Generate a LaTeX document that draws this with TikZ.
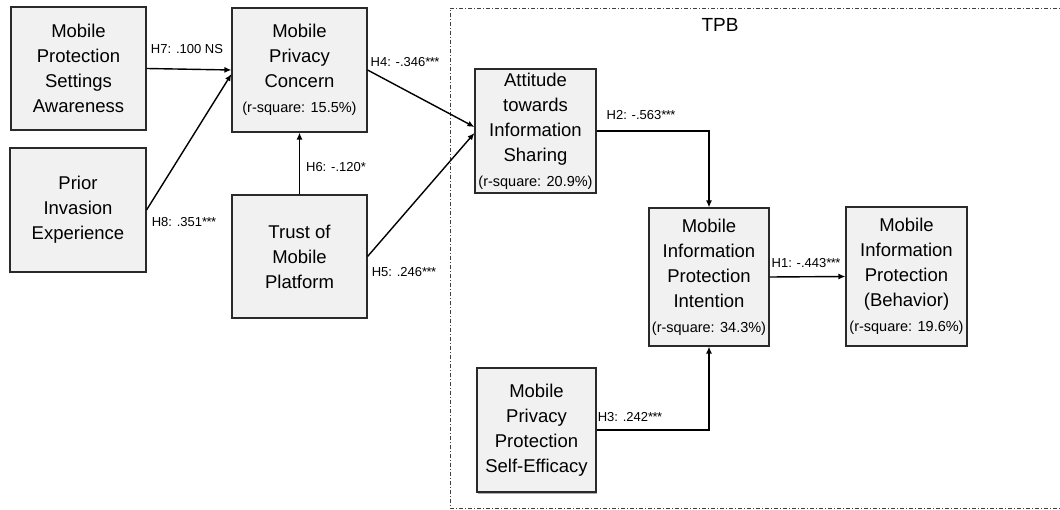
\documentclass[tikz,border=0pt]{standalone}
\usepackage{fontspec}
\setmainfont{Liberation Sans}
\usetikzlibrary{arrows.meta,shadows}
\definecolor{boxfill}{HTML}{F1F1F1}
\definecolor{boxline}{HTML}{2A2A2A}
\newcommand{\rsq}[1]{{\fontsize{14.5}{16}\selectfont (r-square: #1)}}
% tightly set significance stars
\newcommand{\starone}{*}
\newcommand{\starthree}{*\kern-0.6pt*\kern-0.6pt*}
\tikzset{
  construct/.style={draw=boxline, line width=1.1pt, fill=boxfill, align=center,
    inner sep=0pt, font=\fontsize{18.5}{25}\selectfont,
    drop shadow={shadow xshift=1pt, shadow yshift=-1.5pt, fill=black!55, opacity=0.6}},
  path/.style={line width=1.4pt, -{Latex[length=7pt,width=6pt]}},
  coef/.style={font=\fontsize{13}{15}\selectfont, inner sep=0pt},
  tpbframe/.style={line width=0.9pt, black!75, dash pattern=on 4pt off 2pt on 1pt off 2pt}
}
\begin{document}
\begin{tikzpicture}[x=1pt,y=-1pt]
  \useasboundingbox (0,0) rectangle (1060,510);
  \fill[white] (0,0) rectangle (1060,510);

  % TPB grouping frame (runs off the right edge)
  \begin{scope}
    \clip (0,0) rectangle (1060,510);
    \draw[tpbframe] (1075,8) -- (450,8) -- (450,508) -- (1075,508);
  \end{scope}
  \node[font=\fontsize{19}{20}\selectfont] (tpb) at (720,25) {TPB};

  % constructs
  \node[construct, minimum width=135pt, minimum height=123pt] (aw)  at (78.5,68.5) {Mobile\\Protection\\Settings\\Awareness};
  \node[construct, minimum width=136pt, minimum height=124pt] (pie) at (78,210) {Prior\\Invasion\\Experience};
  \node[construct, minimum width=135pt, minimum height=124pt] (pc)  at (299.5,70) {Mobile\\Privacy\\Concern\\\rsq{15.5\%}};
  \node[construct, minimum width=135pt, minimum height=123pt] (tmp) at (299.5,256.5) {Trust of\\Mobile\\Platform};
  \node[construct, minimum width=121pt, minimum height=124pt] (ati) at (535.5,131) {Attitude\\towards\\Information\\Sharing\\\rsq{20.9\%}};
  \node[construct, minimum width=120pt, minimum height=138pt] (int) at (709,277) {Mobile\\Information\\Protection\\Intention\\\rsq{34.3\%}};
  \node[construct, minimum width=121pt, minimum height=139pt] (beh) at (906.5,276.5) {Mobile\\Information\\Protection\\(Behavior)\\\rsq{19.6\%}};
  \node[construct, minimum width=119pt, minimum height=124pt] (se)  at (536.5,430) {Mobile\\Privacy\\Protection\\Self-Efficacy};

  % structural paths
  \draw[path] (aw.east) -- (pc.west);
  \draw[path] (pie.east) -- ([yshift=-4pt]pc.west);
  \draw[path] (tmp.north) -- (pc.south);
  \draw[path] (pc.east) -- ([yshift=4pt]ati.west);
  \draw[path] (tmp.east) -- ([yshift=-2pt]ati.west);
  \draw[path] (ati.east) -| (int.north);
  \draw[path] (se.east) -| (int.south);
  \draw[path] (int.east) -- (beh.west);

  % path coefficients
  \node[coef] (h7) at (187,49)  {H7: .100 NS};
  \node[coef] (h8) at (184,222) {H8: .351\starthree};
  \node[coef] (h6) at (336,167) {H6: -.120\starone};
  \node[coef] (h4) at (405,62)  {H4: -.346\starthree};
  \node[coef] (h5) at (404,272) {H5: .246\starthree};
  \node[coef] (h2) at (641,115) {H2: -.563\starthree};
  \node[coef] (h3) at (630,417) {H3: .242\starthree};
  \node[coef] (h1) at (806,263) {H1: -.443\starthree};
\end{tikzpicture}
\end{document}
